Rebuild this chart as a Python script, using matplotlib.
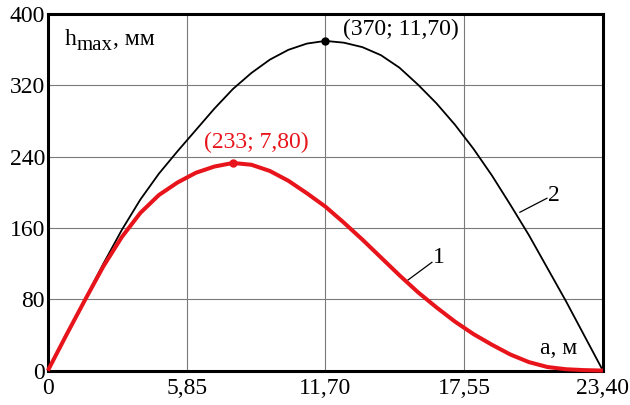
import matplotlib
matplotlib.use("Agg")
import matplotlib.pyplot as plt

plt.rcParams['font.family'] = ['Liberation Serif', 'DejaVu Serif']

# curve 2 (black)
a2 = [0, 0.78, 1.56, 2.34, 3.12, 3.9, 4.68, 5.46, 6.24, 7.02, 7.8, 8.58,
      9.36, 10.14, 10.92, 11.7, 12.48, 13.26, 14.04, 14.82, 15.6, 16.38,
      17.16, 17.94, 18.72, 19.5, 20.28, 21.06, 21.84, 22.62, 23.4]
h2 = [0, 40, 80, 120, 158, 192, 221, 246, 270, 294, 316, 334,
      349, 360, 367, 370, 368, 363, 354, 340, 321, 300,
      276, 249, 219, 186, 152, 115, 78, 39, 0]

# curve 1 (red)
a1 = a2
h1 = [0, 40, 79, 117, 150, 177, 197, 211, 222, 229, 233, 231,
      224, 213, 199, 184, 166, 147, 127, 107, 88, 71,
      55, 41, 29, 18, 9.5, 4, 1.5, 0.5, 0]

peak2 = (11.70, 370)
peak1 = (7.80, 233)

x_ticks = [0, 5.85, 11.70, 17.55, 23.40]
x_labels = ["0", "5,85", "11,70", "17,55", "23,40"]
y_ticks = [0, 80, 160, 240, 320, 400]
y_labels = ["0", "80", "160", "240", "320", "400"]

red = '#e8141b'

fig = plt.figure(figsize=(6.3, 4.05), dpi=100)
ax = fig.add_axes([0.076, 0.085, 0.881, 0.880])

ax.plot(a2, h2, color='black', lw=1.3, zorder=3)
ax.plot(a1, h1, color=red, lw=2.9, zorder=4, clip_on=False,
        solid_capstyle='butt', solid_joinstyle='round')
ax.plot(*peak2, 'o', color='black', ms=5, zorder=5)
ax.plot(*peak1, 'o', color=red, ms=5, zorder=5)

ax.set_xlim(0, 23.4)
ax.set_ylim(0, 400)
ax.set_xticks(x_ticks)
ax.set_xticklabels(x_labels)
ax.set_yticks(y_ticks)
ax.set_yticklabels(y_labels)
ax.tick_params(length=0, labelsize=17)
ax.tick_params(axis='x', pad=5)
ax.tick_params(axis='y', pad=2)
ax.grid(True, color='#7a7a7a', lw=0.8)
ax.set_axisbelow(True)
for s in ax.spines.values():
    s.set_linewidth(2.2)

# annotations
ax.text(14.88, 383, "(370; 11,70)", fontsize=17, ha='center', va='center')
ax.text(8.77, 256, "(233; 7,80)", fontsize=17, ha='center', va='center',
        color=red)
ax.text(21.54, 25, "a, м", fontsize=17, ha='center', va='center')

ax.plot([15.18, 16.19], [101.6, 121.5], color='black', lw=0.9)
ax.text(16.22, 127, "1", fontsize=17, ha='left', va='center')
ax.plot([19.90, 21.04], [177.7, 193.4], color='black', lw=0.9)
ax.text(21.08, 196, "2", fontsize=17, ha='left', va='center')

# y label "h_max, мм" built from pieces (subscript almost full size)
W, H = 630, 405
fig.canvas.draw()
r = fig.canvas.get_renderer()
x = 65
t = fig.text(x / W, 1 - 45 / H, "h", fontsize=17, va='baseline')
x = x + t.get_window_extent(r).width
t = fig.text(x / W, 1 - 50 / H, "max", fontsize=15, va='baseline')
x = x + t.get_window_extent(r).width
fig.text(x / W, 1 - 45 / H, ", мм", fontsize=17, va='baseline')

fig.savefig("out.png", dpi=100)
